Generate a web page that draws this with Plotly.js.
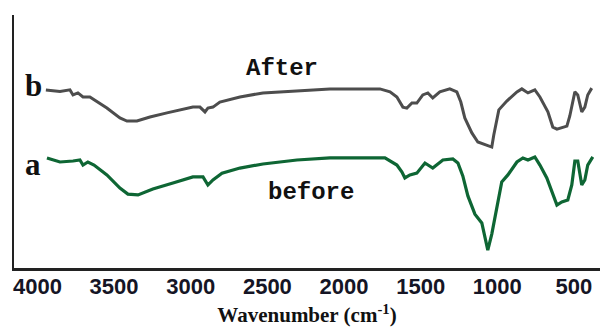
<!DOCTYPE html>
<html>
<head>
<meta charset="utf-8">
<script src="https://cdn.plot.ly/plotly-3.0.1.min.js"></script>
<style>html,body{margin:0;padding:0;background:#fff;}#chart{width:602px;height:334px;}</style>
</head>
<body>
<div id="chart"></div>
<script>
// Sample b (After) - wavenumber (cm-1) and transmittance (a.u.)
const wnAfter = [3945, 3853, 3788, 3768, 3736, 3703, 3658, 3547, 3462, 3416, 3351, 3266, 3155, 3070, 2986, 2940, 2907, 2888, 2855, 2810, 2679, 2529, 2307, 2092, 1766, 1700, 1655, 1616, 1590, 1557, 1525, 1486, 1453, 1421, 1375, 1310, 1264, 1238, 1212, 1166, 1127, 1068, 1036, 1023, 990, 938, 872, 840, 800, 755, 722, 670, 638, 611, 546, 527, 494, 475, 449, 429, 410, 384];
const tAfter = [70.4, 69.8, 70.4, 68.4, 69.2, 67.6, 67.6, 63.2, 59.3, 58.1, 58.1, 59.7, 61.3, 62.5, 63.6, 63.6, 61.7, 63.2, 63.6, 65.6, 67.6, 69.2, 70.0, 70.8, 70.8, 69.6, 67.6, 63.6, 63.2, 65.2, 65.2, 68.4, 69.2, 67.2, 69.6, 70.8, 69.6, 65.6, 59.3, 53.4, 49.8, 48.6, 47.8, 52.6, 62.5, 66.0, 69.6, 70.8, 69.2, 70.4, 67.6, 61.7, 55.7, 54.9, 56.1, 60.1, 69.6, 68.4, 61.7, 63.6, 68.4, 71.1];

// Sample a (before)
const wnBefore = [3938, 3853, 3768, 3723, 3703, 3671, 3631, 3547, 3462, 3410, 3344, 3247, 3116, 2986, 2920, 2888, 2855, 2796, 2679, 2529, 2307, 2092, 1733, 1700, 1655, 1622, 1603, 1570, 1525, 1472, 1453, 1421, 1355, 1290, 1257, 1225, 1192, 1146, 1101, 1081, 1062, 1036, 1003, 971, 931, 872, 833, 800, 755, 722, 677, 638, 611, 579, 540, 514, 494, 475, 449, 429, 410, 377];
const tBefore = [43.5, 41.9, 42.3, 42.7, 40.7, 41.9, 40.7, 36.8, 31.6, 29.2, 28.9, 31.2, 33.6, 36.0, 36.0, 32.8, 34.8, 37.5, 39.5, 41.1, 42.7, 43.5, 43.5, 42.3, 40.7, 37.9, 35.6, 36.8, 37.5, 41.5, 40.7, 39.5, 42.7, 43.1, 41.5, 36.4, 28.5, 21.3, 17.8, 12.3, 7.1, 13.4, 23.3, 34.0, 36.8, 41.9, 43.5, 42.7, 43.9, 40.7, 35.6, 28.9, 24.9, 26.1, 26.9, 32.8, 42.3, 42.3, 32.8, 34.8, 40.7, 43.9];

const xTicks = [4000, 3500, 3000, 2500, 2000, 1500, 1000, 500];
const xTickLabels = ["4000", "3500", "3000", "2500", "2000", "1500", "1000", "500"];

const traces = [
  {x: wnAfter, y: tAfter, type: 'scatter', mode: 'lines', name: 'After',
   line: {color: '#4d4d4d', width: 3}},
  {x: wnBefore, y: tBefore, type: 'scatter', mode: 'lines', name: 'before',
   line: {color: '#0e6634', width: 3.2}}
];

const layout = {
  width: 602, height: 334,
  margin: {l: 14, r: 2, t: 15, b: 66},
  paper_bgcolor: '#ffffff', plot_bgcolor: '#ffffff',
  showlegend: false,
  xaxis: {
    range: [4153, 330],
    tickvals: xTicks, ticktext: xTickLabels,
    ticks: '', showgrid: false, zeroline: false,
    ticklabelstandoff: -3,
    showline: true, linecolor: '#222', linewidth: 2.5,
    tickfont: {family: 'Liberation Sans, Arial, sans-serif', size: 22, color: '#151525', weight: 'bold'},
    title: {text: 'Wavenumber (cm<sup>-1</sup>)', standoff: 10,
            font: {family: 'Liberation Serif, Times New Roman, serif', size: 21, color: '#111', weight: 'bold'}}
  },
  yaxis: {
    range: [0, 100],
    showticklabels: false, ticks: '', showgrid: false, zeroline: false,
    showline: true, linecolor: '#222', linewidth: 2.5
  },
  annotations: [
    {x: 4029, y: 72, xref: 'x', yref: 'y', text: 'b', showarrow: false,
     font: {family: 'Liberation Serif, Times New Roman, serif', size: 31, color: '#111', weight: 'bold'}},
    {x: 4029, y: 41, xref: 'x', yref: 'y', text: 'a', showarrow: false,
     font: {family: 'Liberation Serif, Times New Roman, serif', size: 31, color: '#111', weight: 'bold'}},
    {x: 2405, y: 79, xref: 'x', yref: 'y', text: 'After', showarrow: false,
     font: {family: 'Liberation Mono, Courier New, monospace', size: 24, color: '#111', weight: 'bold'}},
    {x: 2216, y: 30, xref: 'x', yref: 'y', text: 'before', showarrow: false,
     font: {family: 'Liberation Mono, Courier New, monospace', size: 24, color: '#111', weight: 'bold'}}
  ]
};

Plotly.newPlot('chart', traces, layout, {displayModeBar: false, staticPlot: true});
</script>
</body>
</html>
